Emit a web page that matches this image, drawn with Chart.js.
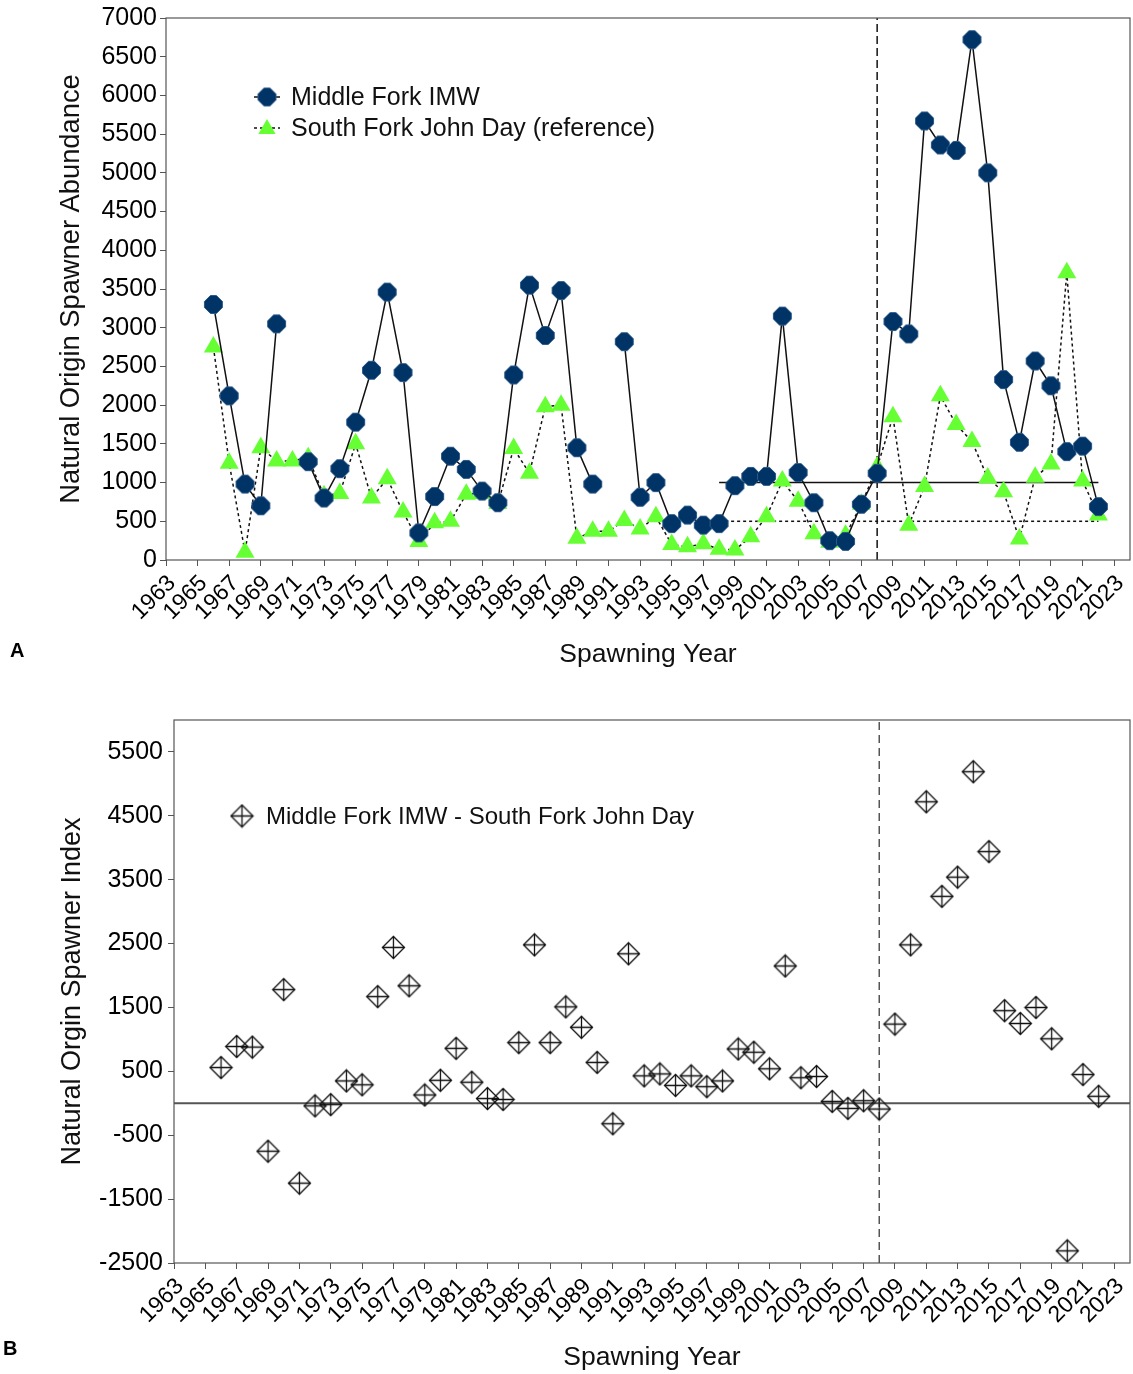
<!DOCTYPE html>
<html>
<head>
<meta charset="utf-8">
<script src="https://cdn.jsdelivr.net/npm/chart.js@4"></script>
<style>
  body { margin: 0; background: #fff; width: 1133px; height: 1374px; position: relative; overflow: hidden; font-family: "Liberation Sans", Arial, sans-serif; }
  .box { position: absolute; left: 0; width: 1133px; }
  #boxA { top: 0; height: 690px; }
  #boxB { top: 700px; height: 674px; }
  .tag { position: absolute; font-weight: bold; font-size: 20px; color: #000; }
</style>
</head>
<body>
<div id="boxA" class="box"><canvas id="chartA"></canvas></div>
<div id="boxB" class="box"><canvas id="chartB"></canvas></div>
<div class="tag" style="left:10px; top:639px;">A</div>
<div class="tag" style="left:3px; top:1337px;">B</div>
<script>
// spawning years (categories)
const years = [1966, 1967, 1968, 1969, 1970, 1971, 1972, 1973, 1974, 1975,
  1976, 1977, 1978, 1979, 1980, 1981, 1982, 1983, 1984, 1985,
  1986, 1987, 1988, 1989, 1990, 1991, 1992, 1993, 1994, 1995,
  1996, 1997, 1998, 1999, 2000, 2001, 2002, 2003, 2004, 2005,
  2006, 2007, 2008, 2009, 2010, 2011, 2012, 2013, 2014, 2015,
  2016, 2017, 2018, 2019, 2020, 2021, 2022];

// Middle Fork IMW (null = no estimate)
const middleFork = [3300, 2120, 980, 700, 3050, null, 1270, 800, 1180, 1780,
  2450, 3460, 2420, 350, 820, 1340, 1170, 890, 740, 2390,
  3550, 2900, 3480, 1450, 980, null, 2820, 810, 1000, 470,
  580, 450, 470, 960, 1080, 1080, 3150, 1130, 740, 250,
  240, 720, 1120, 3080, 2920, 5670, 5360, 5290, 6720, 5000,
  2330, 1520, 2570, 2250, 1400, 1470, 690];

// South Fork John Day (reference)
const southFork = [2750, 1250, 100, 1450, 1280, 1280, 1320, 830, 860, 1500,
  800, 1050, 620, 240, 480, 500, 850, 860, 730, 1440,
  1120, 1980, 2000, 280, 370, 370, 510, 400, 560, 200,
  170, 210, 140, 130, 300, 560, 1020, 760, 340, 230,
  320, 720, 1200, 1850, 450, 950, 2120, 1750, 1530, 1060,
  880, 270, 1070, 1240, 3710, 1020, 580];

// Middle Fork IMW - South Fork John Day index (panel B)
const spawnerIndex = [560, 890, 880, -750, 1780, -1250, -40, -20, 350, 290,
  1670, 2440, 1840, 130, 360, 860, 330, 75, 60, 950,
  2480, 950, 1510, 1190, 640, -320, 2340, 430, 460, 280,
  430, 260, 350, 850, 800, 540, 2150, 400, 420, 30,
  -80, 40, -90, 1240, 2480, 4720, 3240, 3540, 5190, 3940,
  1450, 1250, 1500, 1010, -2310, 450, 110];

// reference lines
const treatmentYear = 2008;
const refYears = [1998, 2022];
const refHigh = [1000, 1000];
const refLow = [500, 500];

// tick labels
const xTickYears = [1963, 1965, 1967, 1969, 1971, 1973, 1975, 1977, 1979, 1981,
  1983, 1985, 1987, 1989, 1991, 1993, 1995, 1997, 1999, 2001,
  2003, 2005, 2007, 2009, 2011, 2013, 2015, 2017, 2019, 2021, 2023];
const yTicksB = [-2500, -1500, -500, 500, 1500, 2500, 3500, 4500, 5500];

const NAVY = '#003366';
const GREEN = '#66FF33';

Chart.defaults.font.family = '"Liberation Sans", Arial, sans-serif';
Chart.defaults.color = '#000';

// marker images
function makeOctagon(R, a) {
  const s = Math.ceil(R * 2 + 3);
  const c = document.createElement('canvas');
  c.width = s; c.height = s;
  const g = c.getContext('2d');
  const m = s / 2;
  const pts = [[-a, -R], [a, -R], [R, -a], [R, a], [a, R], [-a, R], [-R, a], [-R, -a]];
  g.beginPath();
  pts.forEach((p, k) => { if (k === 0) g.moveTo(m + p[0], m + p[1]); else g.lineTo(m + p[0], m + p[1]); });
  g.closePath();
  g.fillStyle = NAVY;
  g.fill();
  g.strokeStyle = '#2e5b8a';
  g.lineWidth = 1;
  g.stroke();
  return c;
}

function makeDiamondCross(h) {
  const s = Math.ceil(h * 2 + 3);
  const c = document.createElement('canvas');
  c.width = s; c.height = s;
  const g = c.getContext('2d');
  const m = s / 2;
  g.strokeStyle = '#111';
  g.lineWidth = 1.3;
  g.beginPath();
  g.moveTo(m, m - h); g.lineTo(m + h, m); g.lineTo(m, m + h); g.lineTo(m - h, m);
  g.closePath();
  g.stroke();
  g.beginPath();
  g.moveTo(m, m - h); g.lineTo(m, m + h);
  g.moveTo(m - h, m); g.lineTo(m + h, m);
  g.stroke();
  return c;
}

const octagon = makeOctagon(9, 3);
const diamondCross = makeDiamondCross(11);

function drawTriangle(ctx, x, y, r) {
  ctx.beginPath();
  ctx.moveTo(x, y - r);
  ctx.lineTo(x + r * Math.sin(Math.PI * 2 / 3), y - r * Math.cos(Math.PI * 2 / 3));
  ctx.lineTo(x + r * Math.sin(Math.PI * 4 / 3), y - r * Math.cos(Math.PI * 4 / 3));
  ctx.closePath();
  ctx.fillStyle = GREEN;
  ctx.fill();
}

// box round the plot area
const frame = {
  id: 'frame',
  afterDraw(chart) {
    const a = chart.chartArea, ctx = chart.ctx;
    ctx.save();
    ctx.strokeStyle = '#555';
    ctx.lineWidth = 1.2;
    ctx.strokeRect(a.left, a.top, a.right - a.left, a.bottom - a.top);
    ctx.restore();
  }
};

// legend drawn inside the plot
function makeLegend(items, size) {
  return {
    id: 'insideLegend',
    afterDraw(chart) {
      const ctx = chart.ctx;
      ctx.save();
      ctx.font = size + 'px "Liberation Sans", Arial, sans-serif';
      ctx.textBaseline = 'middle';
      items.forEach(it => {
        if (it.line) {
          ctx.strokeStyle = '#111';
          ctx.lineWidth = 1.5;
          ctx.setLineDash(it.dash || []);
          ctx.beginPath();
          ctx.moveTo(it.x - 13, it.y);
          ctx.lineTo(it.x + 13, it.y);
          ctx.stroke();
          ctx.setLineDash([]);
        }
        it.marker(ctx, it.x, it.y);
        ctx.fillStyle = '#111';
        ctx.fillText(it.text, it.x + it.gap, it.y + 1);
      });
      ctx.restore();
    }
  };
}

const toPoints = vals => years.map((yr, i) => ({ x: yr, y: vals[i] }));
const pairPoints = (xs, ys) => xs.map((v, i) => ({ x: v, y: ys[i] }));

function xScale(height, titlePad) {
  return {
    type: 'linear', min: 1963, max: 2024,
    afterBuildTicks: s => { s.ticks = xTickYears.map(v => ({ value: v })); },
    afterFit: s => { s.height = height; },
    ticks: { autoSkip: false, minRotation: 45, maxRotation: 45, font: { size: 23 }, padding: 4,
             labelOffset: 6, callback: v => String(v) },
    grid: { drawOnChartArea: false, tickLength: 6, color: '#555' },
    border: { display: false },
    title: { display: true, text: 'Spawning Year', font: { size: 26.5 }, color: '#111',
             padding: { top: 0, bottom: titlePad } }
  };
}

// the rotated end label reserves room on the right; widen the canvas so the plot ends at x=1130
function fitRight(chart, boxId, target) {
  const box = document.getElementById(boxId);
  for (let k = 0; k < 3; k++) {
    const d = target - chart.chartArea.right;
    if (Math.abs(d) < 0.3) break;
    box.style.width = (box.getBoundingClientRect().width + d) + 'px';
    chart.resize();
  }
}

// Panel A
const legendA = makeLegend([
  { text: 'Middle Fork IMW', x: 267, y: 97, gap: 24, line: true,
    marker: (ctx, x, y) => ctx.drawImage(octagon, x - octagon.width / 2, y - octagon.height / 2) },
  { text: 'South Fork John Day (reference)', x: 267, y: 128, gap: 24, line: true, dash: [3, 3],
    marker: (ctx, x, y) => drawTriangle(ctx, x, y + 1, 10) }
], 25);

const chartA = new Chart(document.getElementById('chartA'), {
  type: 'line',
  data: {
    datasets: [
      { label: 'Middle Fork IMW', data: toPoints(middleFork), borderColor: '#111', borderWidth: 1.5,
        pointStyle: octagon, pointRadius: 9, pointHoverRadius: 9, spanGaps: false, tension: 0 },
      { label: 'South Fork John Day (reference)', data: toPoints(southFork), borderColor: '#111', borderWidth: 1.5,
        borderDash: [3, 3], pointStyle: 'triangle', pointRadius: 11, pointHoverRadius: 11,
        pointBackgroundColor: GREEN, pointBorderColor: GREEN, pointBorderWidth: 0, tension: 0 },
      { label: 'high', data: pairPoints(refYears, refHigh), borderColor: '#111', borderWidth: 1.5, pointRadius: 0 },
      { label: 'low', data: pairPoints(refYears, refLow), borderColor: '#111', borderWidth: 1.5,
        borderDash: [3, 3], pointRadius: 0 },
      { label: 'treatment', data: pairPoints([treatmentYear, treatmentYear], [0, 7000]), borderColor: '#111',
        borderWidth: 1.5, borderDash: [8, 4], pointRadius: 0 }
    ]
  },
  options: {
    responsive: true, maintainAspectRatio: false, animation: false,
    layout: { padding: { top: 17, right: 0, left: 0, bottom: 0 } },
    plugins: { legend: { display: false }, tooltip: { enabled: false } },
    scales: {
      x: xScale(130, 19),
      y: {
        min: 0, max: 7000,
        afterFit: s => { s.width = 166; },
        ticks: { stepSize: 500, autoSkip: false, font: { size: 25 }, padding: 3, callback: v => String(v) },
        grid: { drawOnChartArea: false, tickLength: 6, color: '#555' },
        border: { display: false },
        title: { display: true, text: 'Natural Origin Spawner Abundance', font: { size: 27.3 }, color: '#111',
                 padding: { top: 55, bottom: 0 } }
      }
    }
  },
  plugins: [frame, legendA]
});
fitRight(chartA, 'boxA', 1130);

// Panel B
const legendB = makeLegend([
  { text: 'Middle Fork IMW - South Fork John Day', x: 242, y: 116, gap: 24, line: false,
    marker: (ctx, x, y) => ctx.drawImage(diamondCross, x - diamondCross.width / 2, y - diamondCross.height / 2) }
], 24);

const chartB = new Chart(document.getElementById('chartB'), {
  type: 'line',
  data: {
    datasets: [
      { label: 'Middle Fork IMW - South Fork John Day', data: toPoints(spawnerIndex), showLine: false,
        pointStyle: diamondCross, pointRadius: 11, pointHoverRadius: 11 },
      { label: 'zero', data: pairPoints([1963, 2024], [0, 0]), borderColor: '#555', borderWidth: 2, pointRadius: 0 },
      { label: 'treatment', data: pairPoints([treatmentYear, treatmentYear], [-2500, 6000]), borderColor: '#555',
        borderWidth: 1.5, borderDash: [8, 5], pointRadius: 0 }
    ]
  },
  options: {
    responsive: true, maintainAspectRatio: false, animation: false,
    layout: { padding: { top: 20, right: 0, left: 0, bottom: 0 } },
    plugins: { legend: { display: false }, tooltip: { enabled: false } },
    scales: {
      x: xScale(111, 0),
      y: {
        min: -2500, max: 6000,
        afterBuildTicks: s => { s.ticks = yTicksB.map(v => ({ value: v })); },
        afterFit: s => { s.width = 174; },
        ticks: { autoSkip: false, font: { size: 25 }, padding: 5, callback: v => String(v) },
        grid: { drawOnChartArea: false, tickLength: 6, color: '#555' },
        border: { display: false },
        title: { display: true, text: 'Natural Orgin Spawner Index', font: { size: 27 }, color: '#111',
                 padding: { top: 56, bottom: 0 } }
      }
    }
  },
  plugins: [frame, legendB]
});
fitRight(chartB, 'boxB', 1130);
</script>
</body>
</html>
